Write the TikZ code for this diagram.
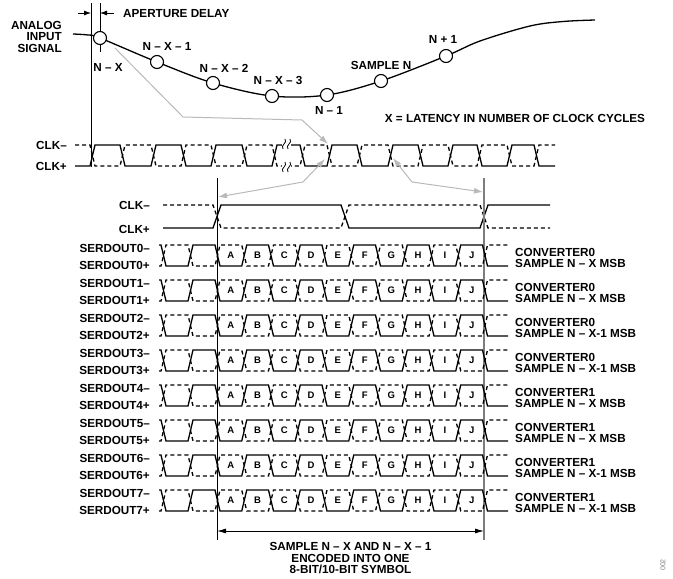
\documentclass[tikz,border=0pt]{standalone}
\usepackage{fontspec}
\setmainfont{Liberation Sans}
\usepackage{tikz}
\usetikzlibrary{calc,arrows.meta,positioning}
\usepackage{xcolor}

\definecolor{arrowgray}{RGB}{185,185,185}
\definecolor{edgegray}{RGB}{125,125,125}

\tikzset{
  lbl/.style={font=\fontsize{11.7}{11.5}\selectfont\bfseries, inner sep=0pt},
  bitlbl/.style={font=\fontsize{9.5}{9.5}\selectfont\bfseries, inner sep=0pt},
  sig/.style={line width=1.3pt},
  sigdash/.style={sig, dash pattern=on 4pt off 3pt},
  grayarrow/.style={arrowgray, line width=1pt},
  sampdot/.style={circle, draw, line width=1.1pt, fill=white, minimum size=13pt, inner sep=0pt},
}

% #1 style, #2 x start, #3 first level, #4 other level, #5 edges, #6 edge width, #7 x end, #8 end level
\newcommand{\trace}[8]{%
  \draw[#1] (#2,#3)
    \foreach \e [count=\k, evaluate=\k as \ya using {mod(\k,2)==1 ? #3 : #4},
                 evaluate=\k as \yb using {mod(\k,2)==1 ? #4 : #3}] in {#5}
      { -- (\e,\ya) -- ({\e+#6},\yb) }
    -- (#7,#8);
}

\begin{document}
\begin{tikzpicture}[x=1pt, y=-1pt]
\useasboundingbox (0,0) rectangle (673,579);

% analog input
\node[lbl, align=right, anchor=east] (ain) at (62,36.5) {ANALOG\\INPUT\\SIGNAL};
\node[lbl, anchor=west] (apd) at (123,14) {APERTURE DELAY};
\coordinate (apLtop) at (91,3);
\coordinate (apLbot) at (91,167);
\coordinate (apRtop) at (100,3);
\coordinate (apRbot) at (100,52);
\draw[line width=0.8pt] (apLtop) -- (apLbot);
\draw[line width=0.8pt] (apRtop) -- (apRbot);
\draw[line width=0.8pt, -{Latex[length=7pt,width=5pt]}] (78,13) -- (apLtop |- 0,13);
\draw[line width=0.8pt, -{Latex[length=7pt,width=5pt]}] (114,13) -- (apRtop |- 0,13);

\draw[line width=1.3pt] plot[smooth, tension=0.55] coordinates {(73,34) (88,35) (100,38) (157,62)
  (213,83) (272,96) (327,95) (381,81) (446,56) (480,41) (530,26) (563,21.5) (595,20)};

\node[sampdot] (nx)   at (100,38) {};
\node[sampdot] (nx1)  at (157,62) {};
\node[sampdot] (nx2)  at (213,83) {};
\node[sampdot] (nx3)  at (272,96) {};
\node[sampdot] (n1)   at (327,95) {};
\node[sampdot] (sn)   at (381,81) {};
\node[sampdot] (np1)  at (446,56) {};

\node[lbl] (nxl)  at (108,67)  {N – X};
\node[lbl] (nx1l) at (167,46)  {N – X – 1};
\node[lbl] (nx2l) at (224,68)  {N – X – 2};
\node[lbl] (nx3l) at (278,80)  {N – X – 3};
\node[lbl] (n1l)  at (329,110) {N – 1};
\node[lbl] (snl)  at (381,65)  {SAMPLE N};
\node[lbl] (np1l) at (443,39)  {N + 1};
\node[lbl] (lat)  at (515,118) {X = LATENCY IN NUMBER OF CLOCK CYCLES};

% input clock
\node[lbl, anchor=east] (clkm) at (67,145) {CLK–};
\node[lbl, anchor=east] (clkp) at (67,166) {CLK+};
\trace{sig}{75}{166}{145}{90,120,151,181,211,242,272,300,327,357,388,418,448,477,507,534}{5}{555}{166}
\trace{sigdash}{75}{145}{166}{90,120,151,181,211,242,272,300,327,357,388,418,448,477,507,534}{5}{555}{145}
\fill[white] (282,138) rectangle (291,151);
\fill[white] (282,160) rectangle (291,173);
\foreach \yb in {144,167}
  \foreach \xb in {284,289}
    \draw[line width=0.8pt] (\xb-1,\yb+5) .. controls (\xb-4,\yb+1) and (\xb+4,\yb-1) .. (\xb+1,\yb-5);

% output clock
\node[lbl, anchor=east] (oclkm) at (150,205) {CLK–};
\node[lbl, anchor=east] (oclkp) at (150,229) {CLK+};
\trace{sig}{163}{228}{205}{213,341,480}{8}{550}{205}
\trace{sigdash}{163}{205}{228}{213,341,480}{8}{550}{228}

% symbol boundaries
\coordinate (symLtop) at (217,178);
\coordinate (symLbot) at (217,540);
\coordinate (symRtop) at (484,178);
\coordinate (symRbot) at (484,540);
\draw[line width=0.8pt] (symLtop) -- (symLbot);
\draw[edgegray, line width=1.1pt] (symRtop) -- (symRbot);

% serial lanes
\foreach \r/\s in {0/X,1/X,2/X-1,3/X-1,4/X,5/X,6/X-1,7/X-1} {
  \pgfmathsetmacro\yt{245+35*\r}
  \pgfmathsetmacro\ybt{266+35*\r}
  \pgfmathtruncatemacro\cv{\r/4}
  \node[lbl, anchor=east] (sdm\r) at (150,{248+35*\r}) {SERDOUT\r–};
  \node[lbl, anchor=east] (sdp\r) at (150,{265+35*\r}) {SERDOUT\r+};
  \trace{sig}{159}{\yt}{\ybt}{161,188,215,241.75,268.5,295.25,322,348.75,375.5,402.25,429,455.75,482.5}{5}{508}{\ybt}
  \trace{sigdash}{159}{\ybt}{\yt}{161,188,215,241.75,268.5,295.25,322,348.75,375.5,402.25,429,455.75,482.5}{5}{508}{\yt}
  \foreach \c [count=\n] in {A,...,J}
    \node[bitlbl] (bit\r\c) at ({215+26.75*(\n-1)+15.9},{255.5+35*\r}) {\c};
  \node[lbl, anchor=west] (conv\r) at (515,{252+35*\r}) {CONVERTER\cv};
  \node[lbl, anchor=west] (samp\r) at (515,{263.5+35*\r}) {SAMPLE N – \s{} MSB};
}

% gray pointers
\coordinate (nxout) at (115,48);
\coordinate (bend1) at (183,117);
\coordinate (bend2) at (302,120);
\coordinate (clkedge) at (328,144);
\draw[grayarrow, -{Latex[length=9pt,width=6pt]}] (nxout) -- (bend1) -- (bend2) -- (clkedge);
\coordinate (bendA) at (303,182);
\coordinate (clkA) at (325,159);
\coordinate (lowA) at (218,197);
\draw[grayarrow, {Latex[length=9pt,width=6pt]}-{Latex[length=9pt,width=6pt]}] (clkA) -- (bendA) -- (lowA);
\coordinate (bendB) at (412,182);
\coordinate (clkB) at (393,158);
\coordinate (lowB) at (483,192);
\draw[grayarrow, {Latex[length=9pt,width=6pt]}-{Latex[length=9pt,width=6pt]}] (clkB) -- (bendB) -- (lowB);

% symbol span
\draw[line width=0.9pt, {Latex[length=9pt,width=5pt]}-{Latex[length=9pt,width=5pt]}] (symLbot |- 0,531) -- (symRbot |- 0,531);
\node[lbl, align=center] (symtxt) at (350.5,558.5) {SAMPLE N – X AND N – X – 1\\ENCODED INTO ONE\\8-BIT/10-BIT SYMBOL};

\node[font=\fontsize{7}{7}\selectfont, text=gray, rotate=90, inner sep=0pt] (fig) at (663,565) {002};
\end{tikzpicture}
\end{document}
